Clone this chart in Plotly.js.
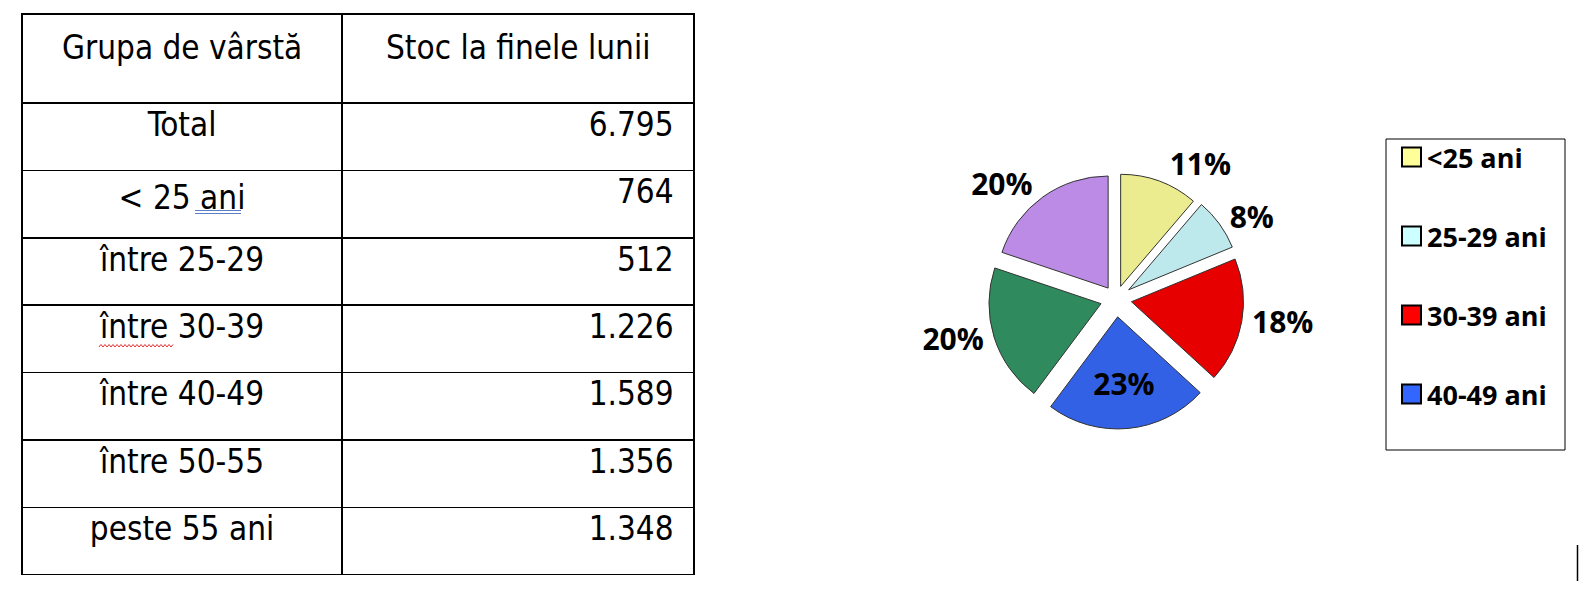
<!DOCTYPE html>
<html>
<head>
<meta charset="utf-8">
<script src="https://cdn.plot.ly/plotly-3.0.1.min.js"></script>
<style>
  html, body { margin: 0; padding: 0; background: #ffffff; }
  #chart { width: 1595px; height: 603px; }
</style>
</head>
<body>
<div id="chart"></div>
<script>
// Unemployment stock at month end, by age group
const headerLabels = ['Grupa de vârstă', 'Stoc la finele lunii'];
const tableGroups = ['< 25 ani', 'între 25-29', 'între 30-39', 'între 40-49', 'între 50-55', 'peste 55 ani'];
const stockValues = [764, 512, 1226, 1589, 1356, 1348];

const pieLabels = ['<25 ani', '25-29 ani', '30-39 ani', '40-49 ani', '50-55 ani', 'peste 55 ani'];
const pieColors = ['#EBEB8F', '#BDE9EC', '#E60000', '#3361E6', '#2F8B5E', '#BB8BE6'];
const legendColors = ['#FFFF99', '#CCFFFF', '#FF0000', '#3366FF'];
const legendCount = 4;

// Romanian thousands separator
function fmt(n) {
  return String(n).replace(/\B(?=(\d{3})+(?!\d))/g, '.');
}

const total = stockValues.reduce((a, b) => a + b, 0);
const col1 = ['Total'].concat(tableGroups);
const col2 = [total].concat(stockValues).map(v => fmt(v) + '\u2005\u2006');

const W = 1595, H = 603;
const px = x => x / W;
const py = y => 1 - y / H;

const tableFont = 'DejaVu Sans Condensed, DejaVu Sans, sans-serif';
const boldFont = 'Open Sans, sans-serif';

const tableLeft = 22, tableRight = 694, colSplit = 342, tableTop = 14, headerH = 89;

const table = {
  type: 'table',
  domain: { x: [px(tableLeft), px(tableRight)], y: [py(575), py(tableTop)] },
  columnwidth: [colSplit - tableLeft, tableRight - colSplit],
  header: {
    values: headerLabels.map(() => ''),
    height: headerH,
    line: { color: '#000000', width: 1.5 },
    fill: { color: '#ffffff' },
    font: { family: tableFont, size: 33, color: '#000000' }
  },
  cells: {
    values: [col1, col2],
    align: ['center', 'right'],
    height: 67.4,
    line: { color: '#000000', width: 1.5 },
    fill: { color: '#ffffff' },
    font: { family: tableFont, size: 33, color: '#000000' }
  }
};

const pie = {
  type: 'pie',
  labels: pieLabels,
  values: stockValues,
  sort: false,
  direction: 'clockwise',
  rotation: 0,
  pull: [0.12, 0.14, 0.14, 0.16, 0.14, 0.12],
  marker: { colors: pieColors, line: { color: '#333333', width: 1 } },
  texttemplate: '%{percent:.0%}',
  textposition: ['outside', 'outside', 'outside', 'inside', 'outside', 'outside'],
  textfont: { family: boldFont, size: 30, color: '#000000', weight: 'bold' },
  insidetextorientation: 'horizontal',
  domain: { x: [px(986), px(1246)], y: [py(430), py(168)] },
  showlegend: false,
  hoverinfo: 'label+value+percent'
};

const annotations = [];
// Header labels, centred in each column and set lower in the tall header row
const colCentres = [(tableLeft + colSplit) / 2, (colSplit + tableRight) / 2];
headerLabels.forEach((t, i) => {
  annotations.push({
    xref: 'paper', yref: 'paper', x: px(colCentres[i]), y: py(48),
    xanchor: 'center', yanchor: 'middle', showarrow: false,
    text: t,
    font: { family: tableFont, size: 33, color: '#000000' }
  });
});

// Legend box, drawn from the first age groups
const shapes = [{
  type: 'rect', xref: 'paper', yref: 'paper',
  x0: px(1386), x1: px(1565), y0: py(450), y1: py(139),
  line: { color: '#000000', width: 1 }, fillcolor: 'rgba(0,0,0,0)'
}];
for (let i = 0; i < legendCount; i++) {
  const cy = 157 + i * 79;
  shapes.push({
    type: 'rect', xref: 'paper', yref: 'paper',
    x0: px(1402), x1: px(1421), y0: py(cy + 9.5), y1: py(cy - 9.5),
    line: { color: '#000000', width: 2 }, fillcolor: legendColors[i]
  });
  annotations.push({
    xref: 'paper', yref: 'paper', x: px(1425), y: py(cy),
    xanchor: 'left', yanchor: 'middle', showarrow: false,
    text: pieLabels[i],
    font: { family: boldFont, size: 27, color: '#000000', weight: 'bold' }
  });
}
// spell-check underlines in the first column
shapes.push(
  { type: 'line', xref: 'paper', yref: 'paper', x0: px(195), x1: px(241), y0: py(210.5), y1: py(210.5), line: { color: '#5B7FC7', width: 1 } },
  { type: 'line', xref: 'paper', yref: 'paper', x0: px(195), x1: px(241), y0: py(213.5), y1: py(213.5), line: { color: '#5B7FC7', width: 1 } }
);
let wave = '';
for (let x = 99, k = 0; x <= 173; x += 2, k++) {
  wave += (k === 0 ? 'M' : 'L') + px(x).toFixed(5) + ',' + py(k % 2 ? 344.5 : 347).toFixed(5) + ' ';
}
shapes.push({ type: 'path', xref: 'paper', yref: 'paper', path: wave, line: { color: '#E03030', width: 1 } });
// text caret at the lower right
shapes.push({
  type: 'line', xref: 'paper', yref: 'paper',
  x0: px(1577.5), x1: px(1577.5), y0: py(581), y1: py(545),
  line: { color: '#000000', width: 1.5 }
});

const layout = {
  width: W, height: H,
  margin: { l: 0, r: 0, t: 0, b: 0 },
  paper_bgcolor: '#ffffff',
  plot_bgcolor: '#ffffff',
  showlegend: false,
  shapes: shapes,
  annotations: annotations
};

Plotly.newPlot('chart', [table, pie], layout, { displayModeBar: false, staticPlot: true });
</script>
</body>
</html>
